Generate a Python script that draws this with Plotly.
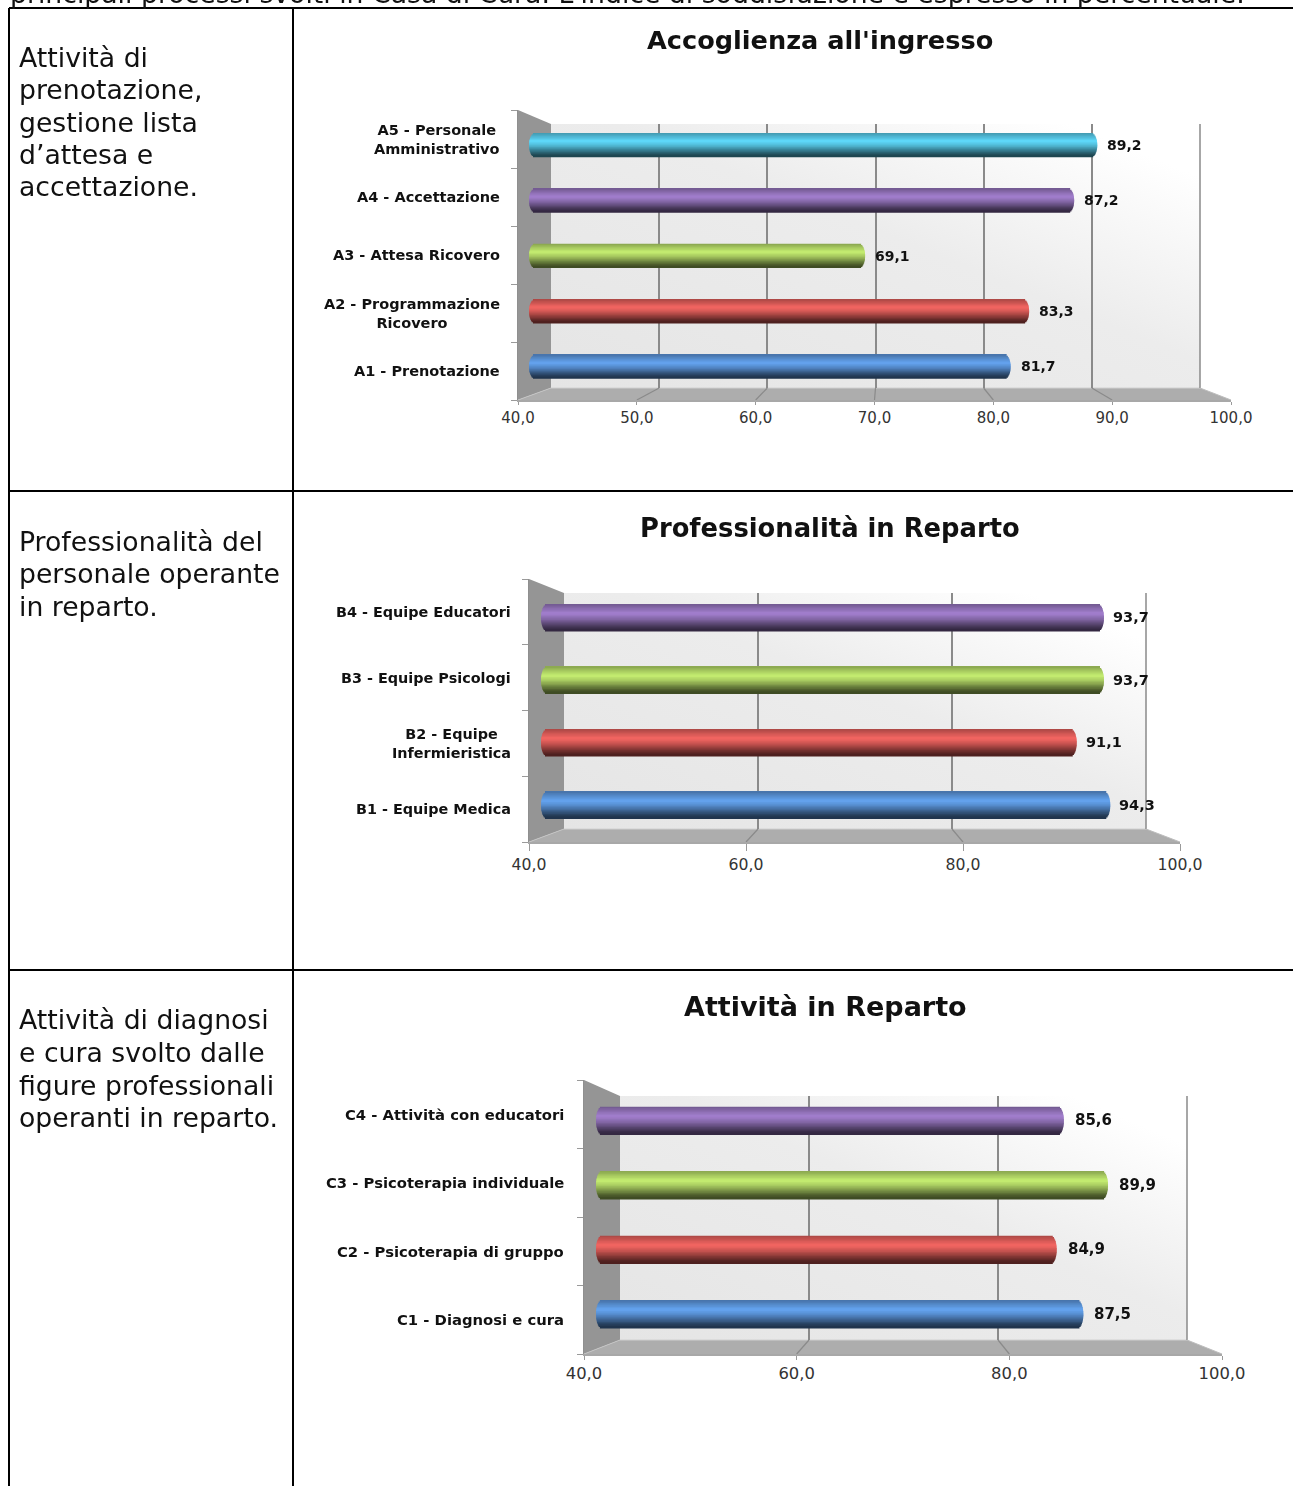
import base64
import plotly.graph_objects as go

INTRO = "principali processi svolti in Casa di Cura. L'indice di soddisfazione è espresso in percentuale."

titles = ["Accoglienza all'ingresso", "Professionalità in Reparto", "Attività in Reparto"]

notes_a = ["Attività di", "prenotazione,", "gestione lista", "d’attesa e", "accettazione."]
notes_b = ["Professionalità del", "personale operante", "in reparto."]
notes_c = ["Attività di diagnosi", "e cura svolto dalle", "figure professionali", "operanti in reparto."]

cats_a = ["A1 - Prenotazione", "A2 - Programmazione<br>Ricovero", "A3 - Attesa Ricovero",
          "A4 - Accettazione", "A5 - Personale<br>Amministrativo"]
vals_a = [81.7, 83.3, 69.1, 87.2, 89.2]
cats_b = ["B1 - Equipe Medica", "B2 - Equipe<br>Infermieristica", "B3 - Equipe Psicologi", "B4 - Equipe Educatori"]
vals_b = [94.3, 91.1, 93.7, 93.7]
cats_c = ["C1 - Diagnosi e cura", "C2 - Psicoterapia di gruppo", "C3 - Psicoterapia individuale", "C4 - Attività con educatori"]
vals_c = [87.5, 84.9, 89.9, 85.6]

series_colors = ["#4f81bd", "#c0504d", "#9bbb59", "#8064a2", "#4bacc6"]

W, H = 1293, 1486
px = lambda x: x / W
py = lambda y: 1 - y / H

# pixel geometry of each panel
panels = [
    dict(cats=cats_a, vals=vals_a, notes=notes_a, title=titles[0], dtick=10,
         front=(518, 1231), back=(551, 1200), bar=(529, 1222),
         ytop=110, ybot=400, ybtop=124, ybbot=388, bar_y=(117, 394), bar_h=0.21,
         title_x=820, title_y=40, title_size=25.6, cat_x=502, cat_size=14.5, val_size=14, tick_size=15, ticklen=3,
         note_y=57, note_step=32.5, cap=0.5, val_shift=8),
    dict(cats=cats_b, vals=vals_b, notes=notes_b, title=titles[1], dtick=20,
         front=(529, 1180), back=(564, 1146), bar=(541, 1170),
         ytop=579, ybot=842, ybtop=593, ybbot=829, bar_y=(586, 836), bar_h=0.21,
         title_x=830, title_y=528, title_size=25.8, cat_x=513, cat_size=14.4, val_size=14.5, tick_size=15.7, ticklen=7,
         note_y=541, note_step=32.5, cap=0.55, val_shift=7),
    dict(cats=cats_c, vals=vals_c, notes=notes_c, title=titles[2], dtick=20,
         front=(584, 1222), back=(620, 1187), bar=(596, 1211.6),
         ytop=1080, ybot=1354, ybtop=1096, ybbot=1340, bar_y=(1088, 1346), bar_h=0.21,
         title_x=825, title_y=1006, title_size=27, cat_x=566, cat_size=14.8, val_size=15, tick_size=16.4, ticklen=4,
         note_y=1020, note_step=32.5, cap=0.55, val_shift=9),
]

# shading profile of a cylinder: (position from the top, brightness factor)
SHADE = [(0.0, 0.88), (0.1, 1.0), (0.35, 1.28), (0.55, 1.05), (0.75, 0.72), (0.9, 0.48), (1.0, 0.38)]
BANDS = 20


def shade(hex_col, t):
    for (a, fa), (b, fb) in zip(SHADE, SHADE[1:]):
        if a <= t <= b:
            f = fa + (fb - fa) * (t - a) / (b - a)
            break
    rgb = [int(hex_col[i:i + 2], 16) for i in (1, 3, 5)]
    return "rgb(" + ",".join(str(min(255, round(c * f))) for c in rgb) + ")"


fig = go.Figure()
layout = dict(
    template="none",
    width=W, height=H, margin=dict(l=0, r=0, t=0, b=0), showlegend=False,
    paper_bgcolor="white", plot_bgcolor="rgba(0,0,0,0)", separators=",.",
    font=dict(family="DejaVu Sans", color="#111"), barmode="overlay",
)
shapes, annots, images = [], [], []
INK = "#000000"
WALL = "#959595"
FLOOR = "#adadad"
GRID = "#8a8a8a"


def line(x0, y0, x1, y1, color=INK, w=2):
    shapes.append(dict(type="line", xref="paper", yref="paper", x0=px(x0), y0=py(y0), x1=px(x1), y1=py(y1),
                       line=dict(color=color, width=w), layer="below"))


def poly(points, fill):
    path = "M " + " L ".join(f"{px(x)} {py(y)}" for x, y in points) + " Z"
    shapes.append(dict(type="path", xref="paper", yref="paper", path=path, fillcolor=fill,
                       line=dict(width=0), layer="below"))


def text(x, y, s, size, anchor="left", bold=False, color="#111", family="DejaVu Sans", xref="paper", yref="paper", xshift=0, align="left"):
    annots.append(dict(x=x, y=y, xref=xref, yref=yref, text=f"<b>{s}</b>" if bold else s, showarrow=False,
                       xanchor=anchor, yanchor="middle", align=align, xshift=xshift,
                       font=dict(size=size, color=color, family=family)))


svg = ('<svg xmlns="http://www.w3.org/2000/svg" width="300" height="120" preserveAspectRatio="none">'
       '<defs><linearGradient id="g" x1="0" y1="1" x2="1" y2="0">'
       '<stop offset="0" stop-color="#e5e5e5"/><stop offset="0.55" stop-color="#ececec"/>'
       '<stop offset="0.9" stop-color="#ffffff"/></linearGradient></defs>'
       '<rect width="300" height="120" fill="url(#g)"/></svg>')
svg_uri = "data:image/svg+xml;base64," + base64.b64encode(svg.encode()).decode()

# page table
line(9, 8, W, 8)
line(9, 491, W, 491)
line(9, 970, W, 970)
line(9, 8, 9, H)
line(293, 8, 293, H)
text(px(8), py(-7), INTRO, 26.7)

ax = 0
for p in panels:
    n = len(p["cats"])
    rng_y = [-0.5, n - 0.5]
    i_back, i_front, i_bar = ax + 1, ax + 2, ax + 3
    ax += 3
    name = lambda k, s: f"{k}axis{'' if s == 1 else s}"
    ref = lambda k, s: f"{k}{'' if s == 1 else s}"

    # walls
    fl, fr = p["front"]
    bl, br = p["back"]
    images.append(dict(source=svg_uri, xref="paper", yref="paper", x=px(bl), y=py(p["ybtop"]),
                       sizex=px(br) - px(bl), sizey=py(p["ybtop"]) - py(p["ybbot"]),
                       sizing="stretch", xanchor="left", yanchor="top", layer="below"))
    poly([(fl, p["ytop"]), (bl, p["ybtop"]), (bl, p["ybbot"]), (fl, p["ybot"])], WALL)
    poly([(fl, p["ybot"]), (fr, p["ybot"]), (br, p["ybbot"]), (bl, p["ybbot"])], FLOOR)
    line(fl, p["ybot"], bl, p["ybbot"], "#c4c4c4", 1)
    line(bl, p["ybbot"], br, p["ybbot"], "#d0d0d0", 1)
    line(br, p["ybtop"], br, p["ybbot"], GRID, 1.5)

    # floor tick lines
    v = 40 + p["dtick"]
    while v < 100:
        f = (v - 40) / 60
        line(bl + f * (br - bl), p["ybbot"], fl + f * (fr - fl), p["ybot"], GRID, 1.2)
        v += p["dtick"]
    line(br, p["ybbot"], fr, p["ybot"], "#bdbdbd", 1)

    # back wall grid
    layout[name("x", i_back)] = dict(domain=[px(bl), px(br)], range=[40, 100], anchor=ref("y", i_back),
                                     showgrid=True, gridcolor=GRID, gridwidth=1.5, tick0=40, dtick=p["dtick"],
                                     showticklabels=False, ticks="", showline=False, zeroline=False)
    layout[name("y", i_back)] = dict(domain=[py(p["ybbot"]), py(p["ybtop"])], type="category",
                                     categoryorder="array", categoryarray=p["cats"], range=rng_y,
                                     anchor=ref("x", i_back), visible=False)
    fig.add_trace(go.Scatter(x=p["vals"], y=p["cats"], mode="markers", opacity=0, hoverinfo="skip",
                             xaxis=ref("x", i_back), yaxis=ref("y", i_back)))

    # front axes with the tick labels
    layout[name("x", i_front)] = dict(domain=[px(fl), px(fr)], range=[40, 100], anchor=ref("y", i_front),
                                      tick0=40, dtick=p["dtick"], tickformat=".1f", ticks="outside", ticklen=p["ticklen"],
                                      tickcolor="#9a9a9a", showline=True, linecolor="#a8a8a8", linewidth=1.5,
                                      showgrid=False, zeroline=False,
                                      tickfont=dict(size=p["tick_size"], color="#333", family="DejaVu Sans"))
    layout[name("y", i_front)] = dict(domain=[py(p["ybot"]), py(p["ytop"])], type="category",
                                      categoryorder="array", categoryarray=p["cats"], range=rng_y,
                                      anchor=ref("x", i_front), tickson="boundaries", ticks="outside", ticklen=6,
                                      tickcolor="#9a9a9a", showticklabels=False, showline=True,
                                      linecolor="#8f8f8f", linewidth=1.2, showgrid=False)
    fig.add_trace(go.Scatter(x=p["vals"], y=p["cats"], mode="markers", opacity=0, hoverinfo="skip",
                             xaxis=ref("x", i_front), yaxis=ref("y", i_front)))

    # bars
    x0b, x1b = p["bar"]
    layout[name("x", i_bar)] = dict(domain=[px(x0b), px(x1b)], range=[40, 100], anchor=ref("y", i_bar), visible=False)
    layout[name("y", i_bar)] = dict(domain=[py(p["bar_y"][1]), py(p["bar_y"][0])], type="category",
                                    categoryorder="array", categoryarray=p["cats"], range=rng_y,
                                    anchor=ref("x", i_bar), visible=False)
    colors = series_colors[:n]
    h = p["bar_h"]
    step = 2 * h / BANDS
    for b in range(BANDS):
        t = (b + 0.5) / BANDS
        # a round end: the outer bands of the cylinder are a little shorter
        inset = p["cap"] * (1 - (1 - (2 * t - 1) ** 2) ** 0.5)
        # y grows upward on the category axis, the first band is the top one
        fig.add_trace(go.Bar(
            y=p["cats"], x=[val - 40 - 2 * inset for val in p["vals"]], base=[40 + inset] * n,
            orientation="h", width=step * 1.8 if b else step,
            offset=h - step * (b + 1) - (step * 0.8 if b else 0),
            marker=dict(color=[shade(c, t) for c in colors], line=dict(width=0)),
            hoverinfo="skip", xaxis=ref("x", i_bar), yaxis=ref("y", i_bar)))
    for cat, val in zip(p["cats"], p["vals"]):
        text(val, cat, f"{val:.1f}".replace(".", ","), p["val_size"], bold=True, xref=ref("x", i_bar),
             yref=ref("y", i_bar), xshift=p["val_shift"])
        text(px(p["cat_x"]), cat, cat, p["cat_size"], anchor="right", bold=True, yref=ref("y", i_front), align="center")

    # title and note
    text(px(p["title_x"]), py(p["title_y"]), p["title"], p["title_size"], anchor="center", bold=True)
    for k, row in enumerate(p["notes"]):
        text(px(17), py(p["note_y"] + k * p["note_step"]), row, 26.7)

layout["shapes"] = shapes
layout["annotations"] = annots
layout["images"] = images
fig.update_layout(**layout)
fig.write_html("out.html", config={"displayModeBar": False},
               post_script="document.body.style.margin='0';document.body.style.overflow='hidden';")
